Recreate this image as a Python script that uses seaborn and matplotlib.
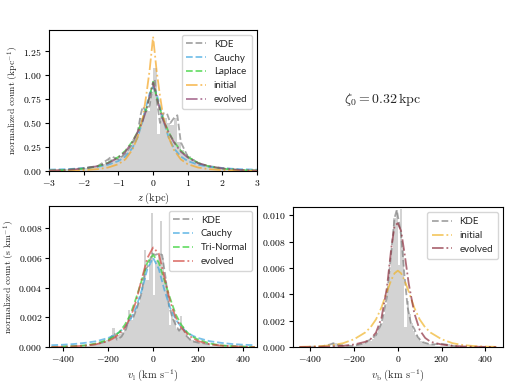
import numpy as np
import pandas as pd
import seaborn as sns
import matplotlib
matplotlib.use("Agg")
import matplotlib.pyplot as plt
from matplotlib.ticker import FuncFormatter

# ---- z panel (kpc) ----
z_edges = np.round(np.arange(-3.0, 3.01, 0.1), 2)
z_hist = [0.005, 0.005, 0.01, 0.01, 0.012, 0.015, 0.02, 0.02, 0.025, 0.03,
          0.03, 0.035, 0.04, 0.05, 0.06, 0.07, 0.09, 0.12, 0.12, 0.13,
          0.16, 0.19, 0.22, 0.27, 0.33, 0.38, 0.55, 0.6, 0.62, 0.8,
          1.07, 0.38, 0.6, 0.55, 0.5, 0.48, 0.55, 0.3, 0.22, 0.18,
          0.15, 0.12, 0.1, 0.08, 0.07, 0.06, 0.05, 0.04, 0.035, 0.03,
          0.025, 0.02, 0.02, 0.015, 0.012, 0.01, 0.01, 0.008, 0.005, 0.005]
z_grid = [-3.0, -2.5, -2.0, -1.6, -1.3, -1.0, -0.8, -0.6, -0.45, -0.3, -0.2, -0.1, 0.0,
          0.1, 0.2, 0.3, 0.45, 0.6, 0.8, 1.0, 1.3, 1.6, 2.0, 2.5, 3.0]
z_cauchy = [0.013, 0.018, 0.028, 0.043, 0.064, 0.103, 0.15, 0.236, 0.347, 0.52, 0.67, 0.81, 0.87,
            0.81, 0.67, 0.52, 0.347, 0.236, 0.15, 0.103, 0.064, 0.043, 0.028, 0.018, 0.013]
z_laplace = [0.004, 0.009, 0.023, 0.048, 0.084, 0.146, 0.211, 0.306, 0.404, 0.534, 0.642, 0.773, 0.93,
             0.773, 0.642, 0.534, 0.404, 0.306, 0.211, 0.146, 0.084, 0.048, 0.023, 0.009, 0.004]
z_initial = [0.001, 0.003, 0.008, 0.018, 0.035, 0.07, 0.12, 0.22, 0.35, 0.55, 0.78, 1.05, 1.40,
             1.05, 0.78, 0.55, 0.35, 0.22, 0.12, 0.07, 0.035, 0.018, 0.008, 0.003, 0.001]
z_evolved = [0.004, 0.01, 0.025, 0.05, 0.08, 0.14, 0.2, 0.3, 0.4, 0.52, 0.63, 0.78, 0.92,
             0.78, 0.63, 0.52, 0.4, 0.3, 0.2, 0.14, 0.08, 0.05, 0.025, 0.01, 0.004]
z_kde_x = [-3.0, -2.5, -2.0, -1.6, -1.3, -1.2, -1.0, -0.8, -0.6, -0.45, -0.35, -0.3, -0.2, -0.1,
           0.0, 0.05, 0.1, 0.2, 0.3, 0.4, 0.5, 0.6, 0.7, 0.8, 1.0, 1.3, 1.6, 2.0, 2.5, 3.0]
z_kde = [0.0, 0.01, 0.03, 0.05, 0.12, 0.15, 0.12, 0.18, 0.28, 0.4, 0.6, 0.67, 0.62, 0.68,
         0.9, 0.95, 0.75, 0.5, 0.6, 0.6, 0.5, 0.55, 0.58, 0.3, 0.15, 0.08, 0.05, 0.03, 0.01, 0.0]

# ---- v_l panel (km/s) ----
v_edges = np.arange(-300, 301, 10)
vl_hist = [0.0001, 0.0001, 0.0002, 0.0002, 0.0002, 0.0003, 0.0003, 0.0004, 0.0004, 0.0005,
           0.0005, 0.0006, 0.0013, 0.0007, 0.0008, 0.0009, 0.001, 0.0012, 0.0015, 0.0025,
           0.0018, 0.0022, 0.0026, 0.003, 0.0035, 0.0044, 0.0065, 0.0045, 0.0056, 0.009,
           0.0035, 0.0058, 0.0062, 0.0085, 0.006, 0.0045, 0.0035, 0.0015, 0.0025, 0.0018,
           0.0012, 0.0012, 0.0021, 0.0012, 0.0009, 0.0007, 0.0006, 0.0005, 0.0004, 0.0004,
           0.0003, 0.0003, 0.0002, 0.0002, 0.0002, 0.0001, 0.0001, 0.0001, 0.0001, 0.0001]
vl_grid = [-450, -400, -350, -300, -250, -200, -175, -150, -125, -100, -75, -50, -25, 0,
           25, 50, 75, 100, 125, 150, 175, 200, 250, 300, 350, 400, 450]
vl_cauchy = [0.00013, 0.00016, 0.00021, 0.00029, 0.0004, 0.00061, 0.00077, 0.001, 0.00134, 0.00186,
             0.00266, 0.00385, 0.00527, 0.006, 0.00527, 0.00385, 0.00266, 0.00186, 0.00134, 0.001,
             0.00077, 0.00061, 0.0004, 0.00029, 0.00021, 0.00016, 0.00013]
vl_trinormal = [0.00001, 0.00003, 0.00006, 0.00012, 0.00025, 0.0005, 0.0007, 0.001, 0.0015, 0.0022,
                0.0033, 0.0045, 0.0057, 0.0062, 0.0057, 0.0045, 0.0033, 0.0022, 0.0015, 0.001,
                0.0007, 0.0005, 0.00025, 0.00012, 0.00006, 0.00003, 0.00001]
vl_evolved = [0.00001, 0.00002, 0.00005, 0.0001, 0.0002, 0.0004, 0.0006, 0.0009, 0.0013, 0.002,
              0.0031, 0.0046, 0.006, 0.0067, 0.0063, 0.0047, 0.0031, 0.002, 0.0013, 0.0009,
              0.0006, 0.0004, 0.0002, 0.0001, 0.00005, 0.00002, 0.00001]
vl_kde_x = [-450, -300, -250, -200, -180, -170, -160, -140, -120, -105, -90, -70, -50, -35, -20,
            -5, 10, 25, 40, 55, 70, 85, 100, 115, 130, 145, 170, 200, 250, 300, 450]
vl_kde = [0.0, 0.0001, 0.0002, 0.0004, 0.0008, 0.0009, 0.0005, 0.0007, 0.0012, 0.002, 0.0019,
          0.0027, 0.0037, 0.0052, 0.0055, 0.0063, 0.0062, 0.0063, 0.0062, 0.0047, 0.0028, 0.002,
          0.0015, 0.0011, 0.0014, 0.0008, 0.0004, 0.0003, 0.0002, 0.0001, 0.0]

# ---- v_b panel (km/s) ----
vb_hist = [0.0003, 0.0003, 0.0002, 0.0002, 0.0002, 0.0001, 0.0001, 0.0001, 0.0001, 0.0001,
           0.0001, 0.0002, 0.0002, 0.0002, 0.0003, 0.0003, 0.0004, 0.0005, 0.0006, 0.0008,
           0.001, 0.0013, 0.0018, 0.0025, 0.0033, 0.0045, 0.0058, 0.0075, 0.0098, 0.0104,
           0.0062, 0.0105, 0.0075, 0.0015, 0.0035, 0.0025, 0.0018, 0.0012, 0.0009, 0.0007,
           0.0005, 0.0004, 0.0003, 0.0003, 0.0002, 0.0002, 0.0002, 0.0001, 0.0001, 0.0001,
           0.0001, 0.0001, 0.0002, 0.0002, 0.0001, 0.0001, 0.0001, 0.0001, 0.0, 0.0]
vb_grid = [-450, -400, -350, -300, -250, -200, -150, -125, -100, -75, -50, -30, -15, 0,
           15, 30, 50, 75, 100, 125, 150, 200, 250, 300, 350, 400, 450]
vb_initial = [0.00002, 0.00004, 0.00008, 0.00015, 0.0003, 0.0006, 0.0011, 0.0015, 0.0021, 0.003,
              0.0042, 0.0051, 0.0056, 0.0058, 0.0056, 0.0051, 0.0042, 0.003, 0.0021, 0.0015,
              0.0011, 0.0006, 0.0003, 0.00015, 0.00008, 0.00004, 0.00002]
vb_evolved = [0.00001, 0.00002, 0.00003, 0.00005, 0.0001, 0.0002, 0.0004, 0.0006, 0.0011, 0.0022,
              0.0045, 0.0075, 0.0092, 0.0094, 0.0088, 0.0072, 0.0048, 0.0026, 0.0013, 0.0007,
              0.0004, 0.0002, 0.0001, 0.00005, 0.00003, 0.00002, 0.00001]
vb_kde_x = [-450, -350, -310, -295, -280, -250, -200, -150, -100, -75, -50, -30, -15, -5, 5,
            15, 30, 45, 60, 75, 90, 110, 150, 200, 220, 250, 300, 450]
vb_kde = [0.0, 0.00005, 0.0002, 0.0003, 0.0002, 0.0001, 0.0001, 0.0003, 0.0009, 0.0018, 0.0038,
          0.0072, 0.0098, 0.0104, 0.0095, 0.0085, 0.0055, 0.003, 0.0018, 0.0014, 0.0008, 0.0004,
          0.0002, 0.00025, 0.0002, 0.0001, 0.0, 0.0]

sns.set_style("ticks")
plt.rcParams["font.family"] = ["DejaVu Serif"]
plt.rcParams["mathtext.fontset"] = "cm"
plt.rcParams["xtick.labelsize"] = 7
plt.rcParams["ytick.labelsize"] = 7
plt.rcParams["axes.edgecolor"] = "black"
plt.rcParams["axes.linewidth"] = 0.8
plt.rcParams["xtick.color"] = "black"
plt.rcParams["ytick.color"] = "black"

c_kde = "gray"
c_cauchy = "#3fa7e0"
c_green = "#2fd02f"
c_initial = "#f5a623"

fig = plt.figure(figsize=(5.12, 3.84), dpi=100)
ax1 = fig.add_axes([0.096, 0.555, 0.406, 0.367])
ax2 = fig.add_axes([0.096, 0.096, 0.406, 0.368])
ax3 = fig.add_axes([0.572, 0.096, 0.41, 0.364])

legend_font = {"family": "Lato", "size": 7}
legend_kw = dict(loc="upper right", prop=legend_font, handlelength=2.0, labelspacing=0.5,
                 borderpad=0.5, framealpha=0.8)


def draw_hist(ax, edges, heights):
    edges = np.asarray(edges, dtype=float)
    df = pd.DataFrame({"c": (edges[:-1] + edges[1:]) / 2, "w": heights})
    sns.histplot(data=df, x="c", weights="w", bins=list(edges), ax=ax, color="lightgray",
                 alpha=1.0, linewidth=0, zorder=1)


def curve(ax, x, y, color, ls, label):
    sns.lineplot(x=x, y=y, ax=ax, color=color, linestyle=ls, linewidth=1.3,
                 alpha=0.7, label=label, zorder=3)


def math_fmt(fmt):
    return FuncFormatter(lambda v, p: "$" + (fmt % v) + "$")


# top-left: z
draw_hist(ax1, z_edges, z_hist)
curve(ax1, z_kde_x, z_kde, c_kde, "--", "KDE")
curve(ax1, z_grid, z_cauchy, c_cauchy, "--", "Cauchy")
curve(ax1, z_grid, z_laplace, c_green, "--", "Laplace")
curve(ax1, z_grid, z_initial, c_initial, "-.", "initial")
curve(ax1, z_grid, z_evolved, "#8e3f6e", "-.", "evolved")
ax1.set_xlim(-3, 3)
ax1.set_ylim(0, 1.47)
ax1.set_xticks([-3, -2, -1, 0, 1, 2, 3])
ax1.set_yticks([0, 0.25, 0.5, 0.75, 1.0, 1.25])
ax1.xaxis.set_major_formatter(math_fmt("%d"))
ax1.yaxis.set_major_formatter(math_fmt("%.2f"))
ax1.set_xlabel(r"$z\ (\mathrm{kpc})$", fontsize=7.5, labelpad=2)
ax1.set_ylabel(r"$\mathrm{normalized\ count\ (kpc^{-1})}$", fontsize=7, labelpad=2)
ax1.legend(**legend_kw)

# bottom-left: v_l
draw_hist(ax2, v_edges, vl_hist)
curve(ax2, vl_kde_x, vl_kde, c_kde, "--", "KDE")
curve(ax2, vl_grid, vl_cauchy, c_cauchy, "--", "Cauchy")
curve(ax2, vl_grid, vl_trinormal, c_green, "--", "Tri-Normal")
curve(ax2, vl_grid, vl_evolved, "#d2473f", "-.", "evolved")
ax2.set_xlim(-460, 460)
ax2.set_ylim(0, 0.0095)
ax2.set_xticks([-400, -200, 0, 200, 400])
ax2.set_yticks([0, 0.002, 0.004, 0.006, 0.008])
ax2.xaxis.set_major_formatter(math_fmt("%d"))
ax2.yaxis.set_major_formatter(math_fmt("%.3f"))
ax2.set_xlabel(r"$v_\mathrm{l}\ (\mathrm{km\ s^{-1}})$", fontsize=7.5, labelpad=2)
ax2.set_ylabel(r"$\mathrm{normalized\ count\ (s\ km^{-1})}$", fontsize=7, labelpad=1)
ax2.legend(**legend_kw)

# bottom-right: v_b
draw_hist(ax3, v_edges, vb_hist)
curve(ax3, vb_kde_x, vb_kde, c_kde, "--", "KDE")
curve(ax3, vb_grid, vb_initial, "#f0b429", "-.", "initial")
curve(ax3, vb_grid, vb_evolved, "#8e2f3f", "-.", "evolved")
ax3.set_xlim(-480, 480)
ax3.set_ylim(0, 0.0106)
ax3.set_xticks([-400, -200, 0, 200, 400])
ax3.set_yticks([0, 0.002, 0.004, 0.006, 0.008, 0.010])
ax3.xaxis.set_major_formatter(math_fmt("%d"))
ax3.yaxis.set_major_formatter(math_fmt("%.3f"))
ax3.set_xlabel(r"$v_\mathrm{b}\ (\mathrm{km\ s^{-1}})$", fontsize=7.5, labelpad=2)
ax3.set_ylabel("")
ax3.legend(**legend_kw)

for ax in (ax1, ax2, ax3):
    for s in ax.spines.values():
        s.set_visible(True)
    ax.tick_params(length=3, width=0.8, pad=2)

fig.text(0.748, 0.742, r"$\zeta_0 = 0.32\,\mathrm{kpc}$", fontsize=10, ha="center", va="center")

fig.savefig("out.png", dpi=100)
